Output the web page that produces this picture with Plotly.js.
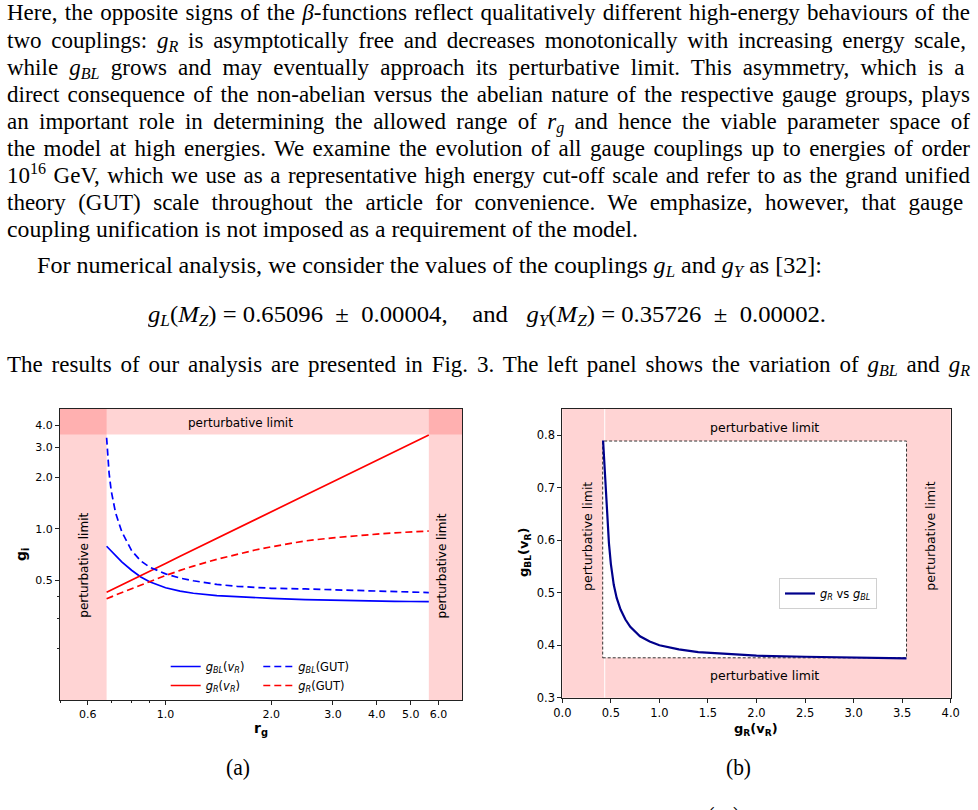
<!DOCTYPE html>
<html>
<head>
<meta charset="utf-8">
<script src="https://cdn.plot.ly/plotly-3.0.1.min.js"></script>
<style>
  body { margin: 0; background: #fff; width: 978px; height: 810px; overflow: hidden; position: relative; }
  .ln { position: absolute; white-space: nowrap; font-family: "Liberation Serif", "DejaVu Serif", serif;
        font-size: 23px; line-height: 27px; color: #000; transform-origin: 0 50%; }
  .ln sub { font-size: 70%; vertical-align: -0.25em; line-height: 0; }
  .ln sup { font-size: 70%; vertical-align: 0.55em; line-height: 0; }
  #plot { position: absolute; left: 0; top: 395px; width: 978px; height: 350px; }
</style>
</head>
<body>
<div id="plot"></div>
<script>
// ---------- data: panel (a), couplings versus r_g ----------
const rg      = [0.679, 0.682, 0.686, 0.69, 0.70, 0.72, 0.75, 0.80, 0.85, 0.90, 1.0, 1.1, 1.2, 1.4, 1.6, 1.8, 2.0, 2.5, 3.0, 3.5, 4.0, 4.5, 5.0, 5.63];
const gBL_vR  = [0.790, 0.783, 0.772, 0.762, 0.737, 0.695, 0.640, 0.572, 0.523, 0.490, 0.452, 0.432, 0.420, 0.407, 0.400, 0.396, 0.392, 0.386, 0.382, 0.380, 0.378, 0.377, 0.376, 0.375];
const gR_vR   = [0.426, 0.428, 0.430, 0.433, 0.439, 0.451, 0.470, 0.502, 0.533, 0.564, 0.627, 0.690, 0.752, 0.878, 1.003, 1.129, 1.254, 1.568, 1.881, 2.195, 2.508, 2.822, 3.135, 3.530];
const gBL_GUT = [3.40, 2.90, 2.42, 2.12, 1.66, 1.24, 0.960, 0.745, 0.648, 0.597, 0.545, 0.515, 0.497, 0.473, 0.461, 0.453, 0.449, 0.445, 0.441, 0.437, 0.433, 0.430, 0.427, 0.424];
const gR_GUT  = [0.390, 0.391, 0.393, 0.395, 0.400, 0.410, 0.424, 0.448, 0.471, 0.493, 0.533, 0.571, 0.605, 0.663, 0.711, 0.751, 0.784, 0.849, 0.885, 0.912, 0.930, 0.946, 0.958, 0.970];

// perturbative limits of panel (a)
const rgLow = 0.679, rgHigh = 5.63, gPert = 3.545;

// ---------- data: panel (b), g_BL(v_R) versus g_R(v_R) ----------
const gR_b  = [0.42, 0.43, 0.44, 0.45, 0.46, 0.48, 0.50, 0.53, 0.56, 0.60, 0.65, 0.70, 0.80, 0.90, 1.0, 1.2, 1.4, 1.7, 2.0, 2.5, 3.0, 3.545];
const gBL_b = [0.790, 0.757, 0.725, 0.690, 0.655, 0.595, 0.555, 0.515, 0.490, 0.468, 0.449, 0.435, 0.417, 0.407, 0.400, 0.392, 0.387, 0.383, 0.380, 0.378, 0.376, 0.375];

// allowed window of panel (b)
const bxLow = 0.416, bxHigh = 3.545, byLow = 0.376, byHigh = 0.789, bxEdge = 0.437;

// tick labels
const aXticks = [0.6, 1, 2, 3, 4, 5, 6];
const aXtext  = ['0.6', '1.0', '2.0', '3.0', '4.0', '5.0', '6.0'];
const aXminor = [0.5, 0.7, 0.8, 0.9];
const aYticks = [0.5, 1, 2, 3, 4];
const aYtext  = ['0.5', '1.0', '2.0', '3.0', '4.0'];
const aYminor = [0.2, 0.3, 0.4];

// ---------- body text ----------
const textLines = [
  {h: 'Here, the opposite signs of the <i>β</i>-functions reflect qualitatively different high-energy behaviours of the', x: 7, y: 15, w: 963, j: true},
  {h: 'two couplings:  <i>g<sub>R</sub></i> is asymptotically free and decreases monotonically with increasing energy scale,', x: 7, y: 43, w: 963, j: true},
  {h: 'while <i>g<sub>BL</sub></i> grows and may eventually approach its perturbative limit.  This asymmetry, which is a', x: 7, y: 70, w: 963, j: true},
  {h: 'direct consequence of the non-abelian versus the abelian nature of the respective gauge groups, plays', x: 7, y: 97, w: 963, j: true},
  {h: 'an important role in determining the allowed range of <i>r<sub>g</sub></i> and hence the viable parameter space of', x: 7, y: 124, w: 963, j: true},
  {h: 'the model at high energies. We examine the evolution of all gauge couplings up to energies of order', x: 7, y: 151, w: 963, j: true},
  {h: '10<sup>16</sup> GeV, which we use as a representative high energy cut-off scale and refer to as the grand unified', x: 7, y: 178, w: 963, j: true},
  {h: 'theory (GUT) scale throughout the article for convenience.  We emphasize, however, that gauge', x: 7, y: 205, w: 963, j: true},
  {h: 'coupling unification is not imposed as a requirement of the model.', x: 7, y: 232, w: 631, j: false},
  {h: 'For numerical analysis, we consider the values of the couplings <i>g<sub>L</sub></i> and <i>g<sub>Y</sub></i> as [32]:', x: 37, y: 268, w: 785, j: false},
  {h: '<i>g<sub>L</sub></i>(<i>M<sub>Z</sub></i>) = 0.65096 &nbsp;±&nbsp; 0.00004, &nbsp; &nbsp;and &nbsp; <i>g<sub>Y</sub></i>(<i>M<sub>Z</sub></i>) = 0.35726 &nbsp;±&nbsp; 0.00002.', x: 148, y: 317, w: 678, j: false},
  {h: 'The results of our analysis are presented in Fig. 3. The left panel shows the variation of <i>g<sub>BL</sub></i> and <i>g<sub>R</sub></i>', x: 7, y: 367, w: 963, j: true},
  {h: '(a)', x: 226, y: 770, w: 24, j: false},
  {h: '(b)', x: 726, y: 770, w: 25, j: false},
  {h: '<i>g<sub>R</sub></i>(<i>v<sub>R</sub></i>)', x: 688, y: 818, w: 52, j: false}
];

textLines.forEach(L => {
  const d = document.createElement('div');
  d.className = 'ln';
  d.innerHTML = L.h;
  d.style.left = L.x + 'px';
  d.style.top = (L.y - 16) + 'px';
  document.body.appendChild(d);
  const nat = d.getBoundingClientRect().width;
  if (L.j && nat < L.w) {
    const nSpaces = (d.textContent.match(/ /g) || []).length;
    d.style.wordSpacing = ((L.w - nat) / nSpaces) + 'px';
  } else {
    d.style.transform = 'scaleX(' + (L.w / nat) + ')';
  }
});

// ---------- figure ----------
const W = 978, H = 350, TOP = 395;
const px = x => x / W;
const py = y => 1 - (y - TOP) / H;

const aXrange = [Math.log10(0.5), Math.log10(7)];
const aYrange = [Math.log10(0.1), Math.log10(5)];
const fx = v => (Math.log10(v) - aXrange[0]) / (aXrange[1] - aXrange[0]);
const fy = v => (Math.log10(v) - aYrange[0]) / (aYrange[1] - aYrange[0]);

const FONT = 'DejaVu Sans, sans-serif';
const PINK = 'rgba(255,0,0,0.17)';

const traces = [
  {x: rg, y: gBL_vR, xaxis: 'x', yaxis: 'y', mode: 'lines', legend: 'legend',
   name: '<i>g<sub>BL</sub></i>(<i>v<sub>R</sub></i>)', line: {color: '#0000ff', width: 1.7}},
  {x: rg, y: gR_vR, xaxis: 'x', yaxis: 'y', mode: 'lines', legend: 'legend',
   name: '<i>g<sub>R</sub></i>(<i>v<sub>R</sub></i>)', line: {color: '#ff0000', width: 1.7}},
  {x: rg, y: gBL_GUT, xaxis: 'x', yaxis: 'y', mode: 'lines', legend: 'legend2',
   name: '<i>g<sub>BL</sub></i>(GUT)', line: {color: '#0000ff', width: 1.7, dash: '7px,4px'}},
  {x: rg, y: gR_GUT, xaxis: 'x', yaxis: 'y', mode: 'lines', legend: 'legend2',
   name: '<i>g<sub>R</sub></i>(GUT)', line: {color: '#ff0000', width: 1.7, dash: '7px,4px'}},
  {x: gR_b, y: gBL_b, xaxis: 'x2', yaxis: 'y2', mode: 'lines', legend: 'legend3',
   name: '<i>g<sub>R</sub></i> vs <i>g<sub>BL</sub></i>', line: {color: '#00008b', width: 2.2}}
];

const axisCommon = {
  showline: true, mirror: true, linecolor: '#222', linewidth: 1,
  ticks: 'outside', ticklen: 4, tickwidth: 1, tickcolor: '#222',
  showgrid: false, zeroline: false, automargin: false,
  tickfont: {family: FONT, size: 11, color: '#000'}
};

const ann = (x, y, text, size, angle, bold) => ({
  xref: 'paper', yref: 'paper', x: px(x), y: py(y), text: bold ? '<b>' + text + '</b>' : text,
  showarrow: false, xanchor: 'center', yanchor: 'middle', textangle: angle || 0,
  font: {family: FONT, size: size, color: '#000'}
});

const layout = {
  width: W, height: H,
  margin: {l: 0, r: 0, t: 0, b: 0},
  paper_bgcolor: 'rgba(0,0,0,0)', plot_bgcolor: '#fff',
  showlegend: true,
  xaxis: Object.assign({}, axisCommon, {
    domain: [px(60), px(462)], anchor: 'y', type: 'log', range: aXrange,
    tickmode: 'array', tickvals: aXticks, ticktext: aXtext,
    minor: {tickmode: 'array', tickvals: aXminor, ticks: 'outside', ticklen: 2, tickcolor: '#222', showgrid: false}
  }),
  yaxis: Object.assign({}, axisCommon, {
    domain: [py(700), py(409)], anchor: 'x', type: 'log', range: aYrange,
    tickmode: 'array', tickvals: aYticks, ticktext: aYtext,
    minor: {tickmode: 'array', tickvals: aYminor, ticks: 'outside', ticklen: 2, tickcolor: '#222', showgrid: false}
  }),
  xaxis2: Object.assign({}, axisCommon, {
    domain: [px(562.3), px(950.7)], anchor: 'y2', range: [0, 4],
    tickmode: 'linear', tick0: 0, dtick: 0.5, tickformat: '.1f',
    tickfont: {family: FONT, size: 11.5, color: '#000'}
  }),
  yaxis2: Object.assign({}, axisCommon, {
    domain: [py(697.7), py(409)], anchor: 'x2', range: [0.3, 0.85],
    tickmode: 'linear', tick0: 0.3, dtick: 0.1, tickformat: '.1f',
    tickfont: {family: FONT, size: 11.5, color: '#000'}
  }),
  legend: {
    x: px(165.7), y: py(652), xanchor: 'left', yanchor: 'top', xref: 'paper', yref: 'paper',
    bgcolor: 'rgba(0,0,0,0)', borderwidth: 0, font: {family: FONT, size: 11.5, color: '#000'},
    tracegroupgap: 0
  },
  legend2: {
    x: px(258.3), y: py(652), xanchor: 'left', yanchor: 'top', xref: 'paper', yref: 'paper',
    bgcolor: 'rgba(0,0,0,0)', borderwidth: 0, font: {family: FONT, size: 11.5, color: '#000'},
    tracegroupgap: 0
  },
  legend3: {
    x: px(779), y: py(578), xanchor: 'left', yanchor: 'top', xref: 'paper', yref: 'paper',
    bgcolor: '#fff', bordercolor: '#d0d0d0', borderwidth: 1, font: {family: FONT, size: 11.5, color: '#000'}
  },
  shapes: [
    // panel (a): perturbative bands
    {type: 'rect', xref: 'x domain', yref: 'y domain', x0: 0, x1: fx(rgLow), y0: 0, y1: 1,
     fillcolor: PINK, line: {width: 0}, layer: 'below'},
    {type: 'rect', xref: 'x domain', yref: 'y domain', x0: fx(rgHigh), x1: 1, y0: 0, y1: 1,
     fillcolor: PINK, line: {width: 0}, layer: 'below'},
    {type: 'rect', xref: 'x domain', yref: 'y domain', x0: 0, x1: 1, y0: fy(gPert), y1: 1,
     fillcolor: PINK, line: {width: 0}, layer: 'below'},
    // panel (b): shaded outside, white allowed window with dashed border
    {type: 'rect', xref: 'x2 domain', yref: 'y2 domain', x0: 0, x1: 1, y0: 0, y1: 1,
     fillcolor: PINK, line: {width: 0}, layer: 'below'},
    {type: 'rect', xref: 'x2', yref: 'y2', x0: bxLow, x1: bxHigh, y0: byLow, y1: byHigh,
     fillcolor: '#fff', line: {width: 0}, layer: 'below'},
    {type: 'line', xref: 'x2', yref: 'y2 domain', x0: bxEdge, x1: bxEdge, y0: 0, y1: 1,
     line: {color: '#fff', width: 1}, layer: 'below'},
    {type: 'rect', xref: 'x2', yref: 'y2', x0: bxLow, x1: bxHigh, y0: byLow, y1: byHigh,
     fillcolor: 'rgba(0,0,0,0)', line: {color: '#333', width: 1, dash: '3px,2px'}, layer: 'below'}
  ],
  annotations: [
    ann(240, 422.7, 'perturbative limit', 12),
    ann(84, 565.7, 'perturbative limit', 12, -90),
    ann(441.7, 565.7, 'perturbative limit', 12, -90),
    ann(22, 555, 'g<sub>i</sub>', 14, -90, true),
    ann(261, 729, 'r<sub>g</sub>', 14, 0, true),
    ann(764, 427.7, 'perturbative limit', 12.5),
    ann(764, 675, 'perturbative limit', 12.5),
    ann(587.3, 536.7, 'perturbative limit', 12.5, -90),
    ann(931, 536.7, 'perturbative limit', 12.5, -90),
    ann(524, 553, 'g<sub>BL</sub>(v<sub>R</sub>)', 13, -90, true),
    ann(756, 729, 'g<sub>R</sub>(v<sub>R</sub>)', 13, 0, true)
  ]
};

Plotly.newPlot('plot', traces, layout, {staticPlot: true, displayModeBar: false});
</script>
</body>
</html>
